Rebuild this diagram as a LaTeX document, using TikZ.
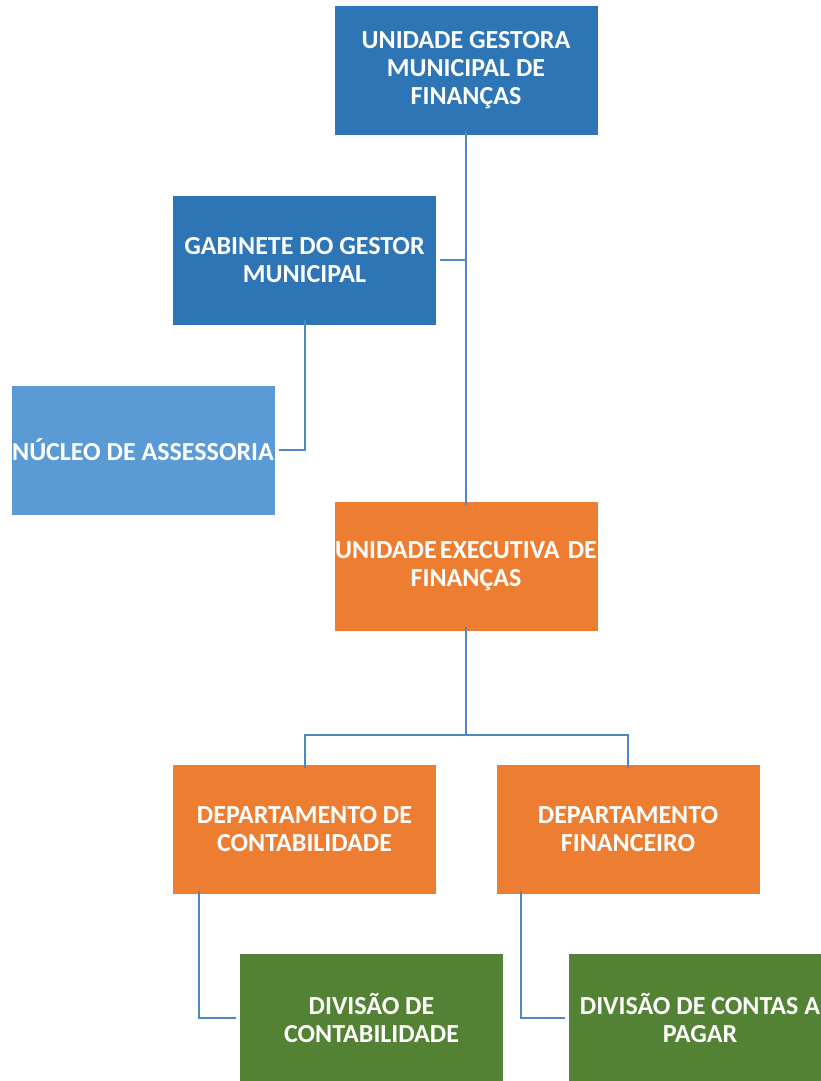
\documentclass[tikz,border=0pt]{standalone}
\usepackage{fontspec}
\setmainfont{Carlito}
\begin{document}
\definecolor{darkblue}{RGB}{46,117,182}
\definecolor{lightblue}{RGB}{91,155,213}
\definecolor{orgorange}{RGB}{237,125,49}
\definecolor{orggreen}{RGB}{84,130,53}
\definecolor{linkblue}{RGB}{79,135,196}
\begin{tikzpicture}[x=1pt,y=-1pt,
  unit/.style={draw=white,line width=0.8pt,minimum width=264pt,minimum height=130pt,
    inner sep=0pt,align=center,text=white,
    font=\fontsize{26}{28}\selectfont\bfseries},
  topunit/.style={unit,fill=darkblue},
  subunit/.style={unit,fill=lightblue},
  execunit/.style={unit,fill=orgorange},
  divunit/.style={unit,fill=orggreen},
  link/.style={draw=linkblue,line width=2pt}]
\useasboundingbox (0,0) rectangle (821,1081);
\clip (0,0) rectangle (821,1081);
% boxes (wide lines are set in zero-width boxes so the node keeps its size)
\node[topunit]  (ugm) at (466,70)    {UNIDADE GESTORA\\MUNICIPAL DE\\FINANÇAS};
\node[topunit]  (gab) at (304.5,260) {GABINETE DO GESTOR\\MUNICIPAL};
\node[subunit]  (nuc) at (143,450)   {\makebox[0pt]{NÚCLEO DE ASSESSORIA}};
\node[execunit] (uef) at (466,566)   {\makebox[0pt]{UNIDADE\hspace{0.12em}EXECUTIVA\hspace{0.32em}DE}\\FINANÇAS};
\node[execunit] (dco) at (304.5,829.5) {DEPARTAMENTO DE\\CONTABILIDADE};
\node[execunit] (dfi) at (628,829.5) {DEPARTAMENTO\\FINANCEIRO};
\node[divunit]  (dvc) at (371.5,1018) {DIVISÃO DE\\CONTABILIDADE};
\node[divunit]  (dvp) at (700,1018)  {DIVISÃO DE CONTAS A\\PAGAR};
% connector junctions
\coordinate (gabj) at (466,260);
\coordinate (split) at (466,735);
% connectors
\draw[link] ([yshift=4pt]ugm.south) -- ([yshift=-4pt]uef.north);
\draw[link] ([xshift=3pt]gab.east) -- (gabj);
\draw[link] ([yshift=5pt]gab.south) |- ([xshift=4pt]nuc.east);
\draw[link] ([yshift=4pt]uef.south) -- (split);
\draw[link] ([yshift=-4pt]dco.north) |- (split) -| ([yshift=-4pt]dfi.north);
\draw[link] ([xshift=-106pt,yshift=4pt]dco.south) |- ([xshift=-3pt]dvc.west);
\draw[link] ([xshift=-107pt,yshift=4pt]dfi.south) |- ([xshift=-3pt]dvp.west);
\end{tikzpicture}
\end{document}
